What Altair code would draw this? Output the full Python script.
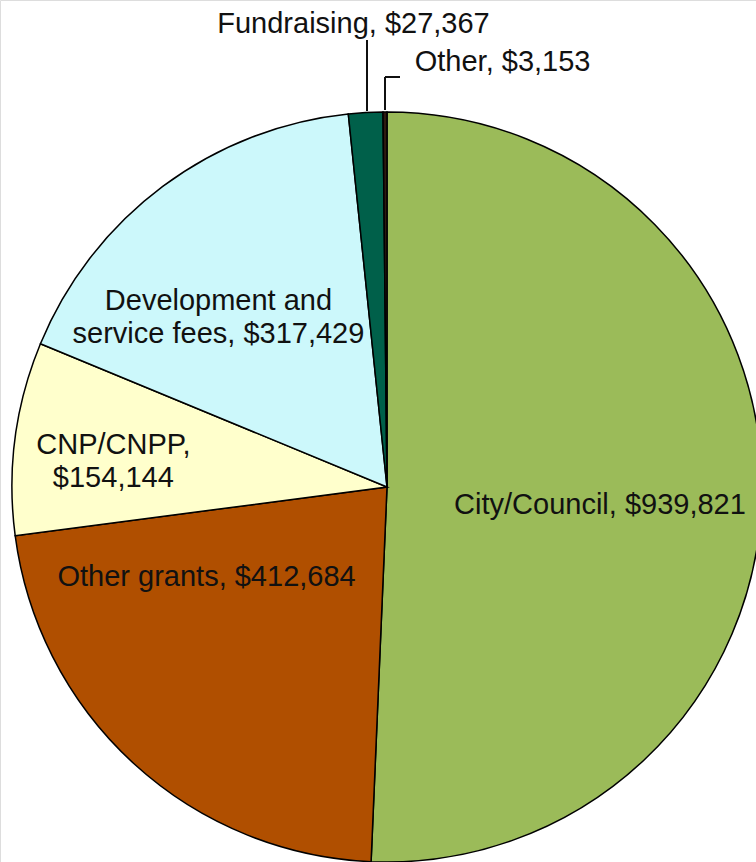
import altair as alt
import pandas as pd

categories = ["City/Council", "Other grants", "CNP/CNPP", "Development and service fees", "Fundraising", "Other"]
values = [939821, 412684, 154144, 317429, 27367, 3153]
labels = ["City/Council, $939,821", "Other grants, $412,684", "CNP/CNPP,\n$154,144",
          "Development and\nservice fees, $317,429", "Fundraising, $27,367", "Other, $3,153"]
colors = ["#9BBB59", "#B04F00", "#FFFFCC", "#CCF8FB", "#00604A", "#2E1A10"]

df = pd.DataFrame({"category": categories, "value": values, "label": labels,
                   "idx": list(range(len(categories)))})

CX, CY, R = 387, 487, 375
FONT = "Liberation Sans"

base = alt.Chart(df)

pie = base.mark_arc(radius=R, stroke="black", strokeWidth=1.5).encode(
    theta=alt.Theta("value:Q", stack=True),
    order=alt.Order("idx:Q"),
    color=alt.Color("category:N", scale=alt.Scale(domain=categories, range=colors), legend=None),
    x=alt.value(CX), y=alt.value(CY),
)

angled = base.transform_joinaggregate(total="sum(value)").transform_window(
    cum="sum(value)", sort=[alt.SortField("idx")], frame=[None, 0]
).transform_calculate(
    mid="(datum.cum - datum.value/2) / datum.total * 2 * PI"
)

# per-label placement: (radius, dx, dy, align)
placement = [
    (213, 0, 13, "center"),
    (202, -44, -59, "center"),
    (275, -1, -6, "center"),
    (240, -25, 6, "center"),
    (465, -7, 1, "center"),
    (426, 30, 1, "left"),
]

text_layers = []
for i, (r, dx, dy, al) in enumerate(placement):
    t = angled.transform_filter(f"datum.idx == {i}").mark_text(
        radius=r, dx=dx, dy=dy, align=al, baseline="middle", font=FONT,
        fontSize=29, color="#111111", lineBreak="\n", lineHeight=33,
    ).encode(
        theta=alt.Theta("mid:Q", scale=None),
        text="label:N",
        x=alt.value(CX), y=alt.value(CY),
    )
    text_layers.append(t)

lead_color = "#111111"
leader1 = base.mark_rule(color=lead_color, strokeWidth=1.5).encode(
    x=alt.value(367), x2=alt.value(367), y=alt.value(40), y2=alt.value(111))
leader2 = base.mark_rule(color=lead_color, strokeWidth=1.5).encode(
    x=alt.value(385), x2=alt.value(385), y=alt.value(77), y2=alt.value(110))
leader3 = base.mark_rule(color=lead_color, strokeWidth=1.5).encode(
    x=alt.value(385), x2=alt.value(400), y=alt.value(77), y2=alt.value(77))

chart = alt.layer(pie, *text_layers, leader1, leader2, leader3).properties(
    width=756, height=862, padding=0,
    autosize=alt.AutoSizeParams(type="none"),
).configure_view(stroke=None).configure(background="white")

chart.save("out.html", embed_options={"renderer": "svg", "actions": False})
